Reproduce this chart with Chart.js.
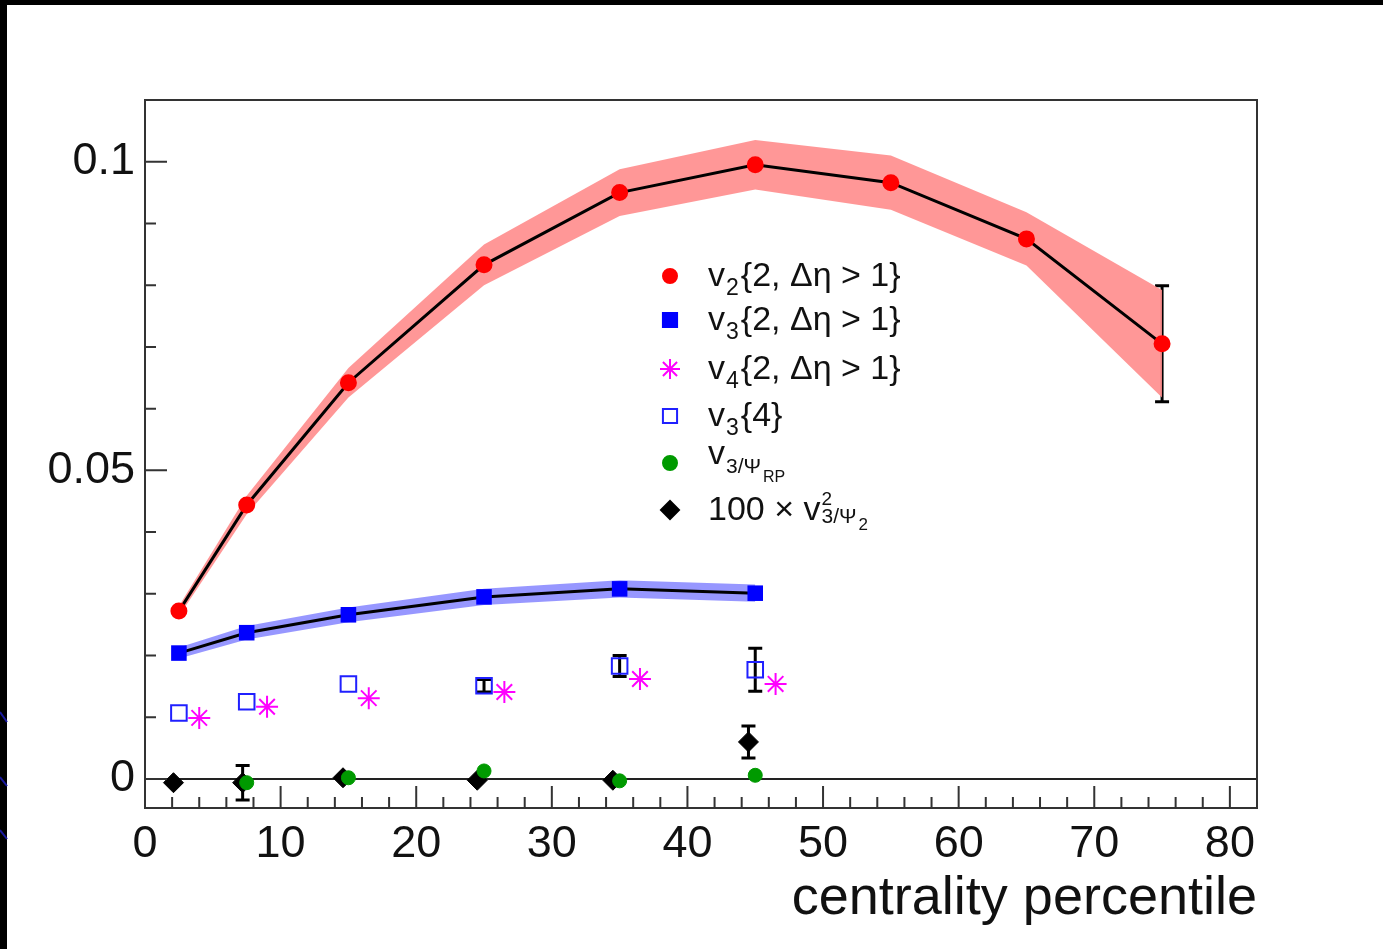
<!DOCTYPE html>
<html>
<head>
<meta charset="utf-8">
<script src="https://cdn.jsdelivr.net/npm/chart.js@4.4.1/dist/chart.umd.min.js"></script>
<style>
  html, body { margin: 0; padding: 0; background: #000; }
  #wrap { position: absolute; left: 0; top: 0; width: 1383px; height: 949px; }
</style>
</head>
<body>
<div id="wrap"><canvas id="flowChart" width="1383" height="949"></canvas></div>
<script>
// centrality bins
const centV2 = [2.5, 7.5, 15, 25, 35, 45, 55, 65, 75];
const v2 = [0.0272, 0.0444, 0.0642, 0.0833, 0.0950, 0.0995, 0.0966, 0.0875, 0.0705];
const v2Sys = [0.0008, 0.0015, 0.0024, 0.0033, 0.0038, 0.0040, 0.0044, 0.0043, 0.0087];
const v2Err = [0, 0, 0, 0, 0, 0, 0, 0, 0.0094];

const centV3 = [2.5, 7.5, 15, 25, 35, 45];
const v3 = [0.0204, 0.0237, 0.0266, 0.0295, 0.0308, 0.0301];
const v3Sys = [0.0009, 0.0011, 0.0012, 0.0013, 0.0014, 0.0014];

const v3c4 = [0.0107, 0.0125, 0.0154, 0.0151, 0.0183, 0.0177];
const v3c4Err = [0, 0, 0, 0.0010, 0.0017, 0.0035];

const centV4 = [4, 9, 16.5, 26.5, 36.5, 46.5];
const v4 = [0.0099, 0.0117, 0.0131, 0.0141, 0.0162, 0.0154];

const centRP = [7.5, 15, 25, 35, 45];
const v3RP = [-0.0006, 0.0002, 0.0013, -0.0003, 0.0006];

const centPsi2 = [2.1, 7.2, 14.6, 24.5, 34.5, 44.5];
const v3Psi2 = [-0.0006, -0.0006, 0.0002, -0.0002, -0.0002, 0.0060];
const v3Psi2Err = [0, 0.0028, 0, 0, 0, 0.0026];

const xTickLabels = [0, 10, 20, 30, 40, 50, 60, 70, 80];
const yTickLabels = [0, 0.05, 0.1];
const yMinorTicks = [0, 0.01, 0.02, 0.03, 0.04, 0.05, 0.06, 0.07, 0.08, 0.09, 0.1];

const FONT = '"Liberation Sans", Arial, Helvetica, sans-serif';
const INK = '#111';

function pts(xs, ys, d) {
  return xs.map((x, i) => ({ x: x, y: ys[i] + (d ? d[i] : 0) }));
}
function neg(a) { return a.map(v => -v); }

const errorSets = [
  { xs: centV2, ys: v2, err: v2Err },
  { xs: centV3, ys: v3c4, err: v3c4Err },
  { xs: centPsi2, ys: v3Psi2, err: v3Psi2Err }
];

// background, frame, inward ticks, zero line, error bars
const framePlugin = {
  id: 'frame',
  beforeDraw(chart) {
    const ctx = chart.ctx;
    ctx.save();
    ctx.fillStyle = '#000';
    ctx.fillRect(0, 0, chart.width, chart.height);
    ctx.fillStyle = '#fff';
    ctx.fillRect(7, 5, chart.width - 7, chart.height - 5);
    ctx.strokeStyle = '#1a1aa0';
    ctx.lineWidth = 2;
    [[712, 722], [777, 786], [830, 839]].forEach(s => {
      ctx.beginPath();
      ctx.moveTo(0, s[0]);
      ctx.lineTo(7, s[1]);
      ctx.stroke();
    });
    ctx.restore();
  },
  beforeDatasetsDraw(chart) {
    const ctx = chart.ctx;
    const a = chart.chartArea;
    const xs = chart.scales.x, ys = chart.scales.y;
    ctx.save();
    // zero line
    ctx.strokeStyle = '#222';
    ctx.lineWidth = 2;
    const y0 = ys.getPixelForValue(0);
    ctx.beginPath();
    ctx.moveTo(a.left, y0);
    ctx.lineTo(a.right, y0);
    ctx.stroke();
    // error bars
    ctx.strokeStyle = '#000';
    ctx.lineWidth = 3;
    errorSets.forEach(s => {
      s.xs.forEach((x, i) => {
        if (!s.err[i]) return;
        const px = xs.getPixelForValue(x);
        const hi = ys.getPixelForValue(s.ys[i] + s.err[i]);
        const lo = ys.getPixelForValue(s.ys[i] - s.err[i]);
        ctx.beginPath();
        ctx.moveTo(px, hi); ctx.lineTo(px, lo);
        ctx.moveTo(px - 7, hi); ctx.lineTo(px + 7, hi);
        ctx.moveTo(px - 7, lo); ctx.lineTo(px + 7, lo);
        ctx.stroke();
      });
    });
    ctx.restore();
  },
  afterDraw(chart) {
    const ctx = chart.ctx;
    const a = chart.chartArea;
    const xs = chart.scales.x, ys = chart.scales.y;
    ctx.save();
    ctx.strokeStyle = '#333';
    ctx.lineWidth = 2;
    ctx.strokeRect(a.left, a.top, a.right - a.left, a.bottom - a.top);
    ctx.beginPath();
    xs.ticks.forEach(t => {
      if (t.value <= xs.min || t.value >= xs.max) return;
      const px = xs.getPixelForValue(t.value);
      const len = t.value % 10 === 0 ? 22 : 11;
      ctx.moveTo(px, a.bottom);
      ctx.lineTo(px, a.bottom - len);
    });
    ys.ticks.forEach(t => {
      const py = ys.getPixelForValue(t.value);
      const len = yTickLabels.some(v => Math.abs(v - t.value) < 1e-9) ? 22 : 11;
      ctx.moveTo(a.left, py);
      ctx.lineTo(a.left + len, py);
    });
    ctx.stroke();
    ctx.restore();
  }
};

// legend with sub/superscripts: [text, font size, baseline offset from marker, stack on previous x]
const legendEntries = [
  { style: 'circle', radius: 7, fill: '#ff0000', stroke: '#ff0000',
    parts: [['v', 34, 10], ['2', 23, 19], ['{2, \u0394\u03b7 > 1}', 34, 10]] },
  { style: 'rect', radius: 10, fill: '#0000ff', stroke: '#0000ff',
    parts: [['v', 34, 10], ['3', 23, 19], ['{2, \u0394\u03b7 > 1}', 34, 10]] },
  { style: 'star', radius: 10, fill: '#ff00ff', stroke: '#ff00ff',
    parts: [['v', 34, 10], ['4', 23, 19], ['{2, \u0394\u03b7 > 1}', 34, 10]] },
  { style: 'rect', radius: 10, fill: '#ffffff', stroke: '#2020ff',
    parts: [['v', 34, 10], ['3', 23, 19], ['{4}', 34, 10]] },
  { style: 'circle', radius: 7, fill: '#009a00', stroke: '#009a00',
    parts: [['v', 34, 1], ['3/\u03a8', 21, 10], ['RP', 16, 19]] },
  { style: 'rectRot', radius: 9, fill: '#000', stroke: '#000',
    parts: [['100 \u00d7 v', 34, 10], ['2', 19, -5], ['3/\u03a8', 21, 13, true], ['2', 17, 20]] }
];
const legendY = [276, 320, 369, 416, 463, 510];

const legendPlugin = {
  id: 'flowLegend',
  afterDraw(chart) {
    const ctx = chart.ctx;
    ctx.save();
    legendEntries.forEach((e, i) => {
      const y = legendY[i];
      ctx.fillStyle = e.fill;
      ctx.strokeStyle = e.stroke;
      ctx.lineWidth = 2;
      Chart.helpers.drawPoint(ctx, { pointStyle: e.style, radius: e.radius, rotation: 0, borderWidth: 2 }, 670, y);
      let x = 708, prevX = 708;
      ctx.fillStyle = INK;
      ctx.textBaseline = 'alphabetic';
      ctx.textAlign = 'left';
      e.parts.forEach(p => {
        const [txt, size, dy, stack] = p;
        ctx.font = size + 'px ' + FONT;
        const px = stack ? prevX : x;
        ctx.fillText(txt, px, y + dy);
        prevX = px;
        x = px + ctx.measureText(txt).width + (size === 34 ? 1 : 2);
      });
    });
    ctx.restore();
  }
};

const cfg = {
  type: 'scatter',
  data: {
    datasets: [
      { label: 'v2 sys up', data: pts(centV2, v2, v2Sys), showLine: true, borderWidth: 0, pointRadius: 0, fill: '+1', backgroundColor: 'rgba(255,140,140,0.9)', order: 10 },
      { label: 'v2 sys low', data: pts(centV2, v2, neg(v2Sys)), showLine: true, borderWidth: 0, pointRadius: 0, fill: false, order: 10 },
      { label: 'v3 sys up', data: pts(centV3, v3, v3Sys), showLine: true, borderWidth: 0, pointRadius: 0, fill: '+1', backgroundColor: 'rgba(140,140,255,0.9)', order: 10 },
      { label: 'v3 sys low', data: pts(centV3, v3, neg(v3Sys)), showLine: true, borderWidth: 0, pointRadius: 0, fill: false, order: 10 },
      { label: 'v2{2}', data: pts(centV2, v2), showLine: true, borderColor: '#000', borderWidth: 3, pointStyle: 'circle', pointRadius: 7, pointBackgroundColor: '#ff0000', pointBorderColor: '#ff0000', order: 2 },
      { label: 'v3{2}', data: pts(centV3, v3), showLine: true, borderColor: '#000', borderWidth: 3, pointStyle: 'rect', pointRadius: 11, pointBackgroundColor: '#0000ff', pointBorderColor: '#0000ff', pointBorderWidth: 0, order: 2 },
      { label: 'v4{2}', data: pts(centV4, v4), showLine: false, pointStyle: 'star', pointRadius: 11, pointBorderColor: '#ff00ff', pointBorderWidth: 2, order: 1 },
      { label: 'v3{4}', data: pts(centV3, v3c4), showLine: false, pointStyle: 'rect', pointRadius: 11, pointBackgroundColor: 'rgba(255,255,255,0)', pointBorderColor: '#2020ff', pointBorderWidth: 2, order: 1 },
      { label: 'v3/psiRP', data: pts(centRP, v3RP), showLine: false, pointStyle: 'circle', pointRadius: 7, pointBackgroundColor: '#009a00', pointBorderColor: '#009a00', order: 0 },
      { label: '100 v3/psi2', data: pts(centPsi2, v3Psi2), showLine: false, pointStyle: 'rectRot', pointRadius: 10, pointBackgroundColor: '#000', pointBorderColor: '#000', order: 1 }
    ]
  },
  options: {
    responsive: false,
    animation: false,
    layout: { padding: { left: 0, top: 100, right: 126, bottom: 0 } },
    plugins: {
      legend: { display: false },
      tooltip: { enabled: false }
    },
    scales: {
      x: {
        type: 'linear',
        min: 0,
        max: 82,
        grid: { display: false, drawTicks: false },
        border: { display: false },
        ticks: {
          stepSize: 2,
          autoSkip: false,
          maxRotation: 0,
          padding: 10,
          color: INK,
          font: { family: FONT, size: 45 },
          callback: v => xTickLabels.includes(v) ? String(v) : ''
        },
        title: {
          display: true,
          text: 'centrality percentile',
          align: 'end',
          color: INK,
          font: { family: FONT, size: 54 },
          padding: { top: 0, bottom: 17 }
        },
        afterFit: s => { s.height = 141; }
      },
      y: {
        type: 'linear',
        min: -0.0047,
        max: 0.110,
        grid: { display: false, drawTicks: false },
        border: { display: false },
        afterBuildTicks: s => { s.ticks = yMinorTicks.map(v => ({ value: v })); },
        ticks: {
          autoSkip: false,
          padding: 10,
          color: INK,
          font: { family: FONT, size: 45 },
          callback: v => {
            const hit = yTickLabels.find(t => Math.abs(t - v) < 1e-9);
            return hit === undefined ? '' : String(hit);
          }
        },
        afterFit: s => { s.width = 145; }
      }
    }
  },
  plugins: [framePlugin, legendPlugin]
};

var flowChart = new Chart(document.getElementById('flowChart'), cfg);
</script>
</body>
</html>
